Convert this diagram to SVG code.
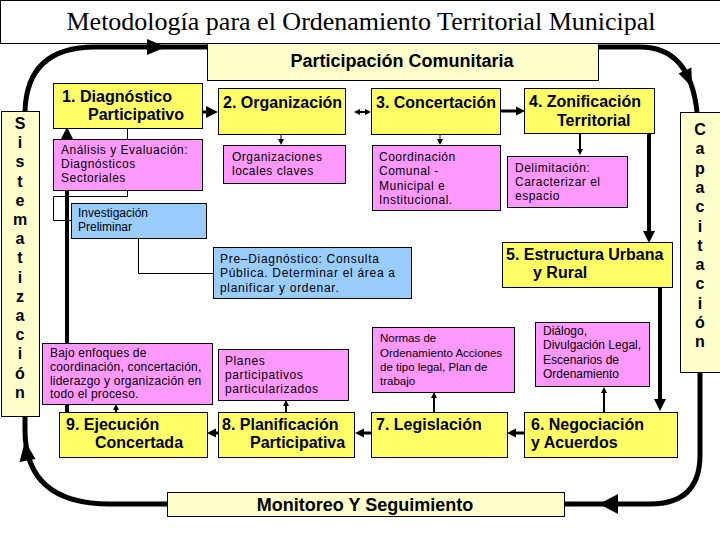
<svg xmlns="http://www.w3.org/2000/svg" width="720" height="540" viewBox="0 0 720 540">
<style>
.box{stroke:#000;stroke-width:1}
.y{fill:#FFFF66}.p{fill:#FF99FF}.b{fill:#99CCFF}.c{fill:#FFFFCC}
.h{font-family:"Liberation Sans",Arial,sans-serif;font-size:16px;font-weight:bold;fill:#000}
.hb{font-family:"Liberation Sans",Arial,sans-serif;font-size:18px;font-weight:bold;fill:#000}
.vt{font-family:"Liberation Sans",Arial,sans-serif;font-size:16px;font-weight:bold;fill:#000;text-anchor:middle}
.s{font-family:"Liberation Sans",Arial,sans-serif;font-size:12px;fill:#000;letter-spacing:0.5px}
.a{font-family:"Liberation Sans",Arial,sans-serif;font-size:12px;fill:#000}
.ttl{font-family:"Liberation Serif","Times New Roman",serif;font-size:26px;fill:#000}
.thk{stroke:#000;stroke-width:5;fill:none}
.med{stroke:#000;stroke-width:4;fill:none}
.ln3{stroke:#000;stroke-width:3;fill:none}
.ln2{stroke:#000;stroke-width:2;fill:none}
.ln1{stroke:#000;stroke-width:1;fill:none}
.hd{fill:#000;stroke:none}
</style>
<defs>
<marker id="hs" viewBox="0 0 10 10" refX="0" refY="5" markerWidth="6" markerHeight="7" markerUnits="userSpaceOnUse" orient="auto"><path d="M0,0 L10,5 L0,10z"/></marker>
<marker id="hm" viewBox="0 0 10 10" refX="0" refY="5" markerWidth="9" markerHeight="10" markerUnits="userSpaceOnUse" orient="auto"><path d="M0,0 L10,5 L0,10z"/></marker>
<marker id="hl" viewBox="0 0 10 10" refX="0" refY="5" markerWidth="12" markerHeight="12" markerUnits="userSpaceOnUse" orient="auto"><path d="M0,0 L10,5 L0,10z"/></marker>
<marker id="hd2" viewBox="0 0 10 10" refX="0" refY="5" markerWidth="6" markerHeight="7" markerUnits="userSpaceOnUse" orient="auto-start-reverse"><path d="M0,0 L10,5 L0,10z"/></marker>
</defs>
<rect width="720" height="540" fill="#fff"/>

<g id="titulo">
<rect class="box" x="0.5" y="0.5" width="740" height="43" fill="#fff"/>
<text class="ttl" x="361" y="30" text-anchor="middle">Metodología para el Ordenamiento Territorial Municipal</text>
</g>

<g id="connectors">
<!-- big loop -->
<path class="thk" d="M207,47 L95,47 Q27,47 25,111"/>
<polygon class="hd" points="147,39 166,47 147,55"/>
<path class="thk" d="M598,47 L640,47 Q690,47 697,112"/>
<polygon class="hd" points="691.4,67.6 692,87 678.6,73.4"/>
<path class="thk" d="M700,373 L700,455 Q700,504 650,504 L564,504"/>
<polygon class="hd" points="618,494 599,504 618,514"/>
<path class="thk" d="M167,504 L110,504 Q25,504 25,430 L25,417"/>
<polygon class="hd" points="35.5,459 25,441 19.5,462"/>
<!-- top row -->
<line class="ln3" x1="202" y1="112" x2="206" y2="112" marker-end="url(#hl)"/>
<line class="ln2" x1="360" y1="112" x2="365" y2="112" marker-start="url(#hd2)" marker-end="url(#hd2)"/>
<line class="ln3" x1="500" y1="111" x2="516" y2="111" marker-end="url(#hm)"/>
<line class="ln1" x1="281" y1="134" x2="281" y2="139" marker-end="url(#hs)"/>
<line class="ln1" x1="440" y1="134" x2="440" y2="139" marker-end="url(#hs)"/>
<line class="ln2" x1="580" y1="133" x2="580" y2="149" marker-end="url(#hs)"/>
<line class="med" x1="649" y1="133" x2="649" y2="231" marker-end="url(#hl)"/>
<line class="med" x1="660" y1="287" x2="660" y2="399" marker-end="url(#hl)"/>
<!-- bottom row -->
<line class="ln3" x1="524" y1="433" x2="516" y2="433" marker-end="url(#hm)"/>
<line class="ln3" x1="372" y1="433" x2="364" y2="433" marker-end="url(#hm)"/>
<line class="ln3" x1="218" y1="433" x2="216" y2="433" marker-end="url(#hm)"/>
<line class="ln2" x1="604" y1="412" x2="604" y2="393" marker-end="url(#hs)"/>
<line class="ln2" x1="434" y1="412" x2="434" y2="398" marker-end="url(#hs)"/>
<line class="ln2" x1="286" y1="412" x2="286" y2="406" marker-end="url(#hs)"/>
<line class="ln2" x1="116" y1="412" x2="116" y2="410" marker-end="url(#hs)"/>
<!-- left vertical -->
<line class="med" x1="67" y1="412" x2="67" y2="139" marker-end="url(#hl)"/>
<!-- thin links -->
<line class="ln1" x1="127.5" y1="128" x2="127.5" y2="139"/>
<path class="ln1" d="M127.5,190 L127.5,196.5 L53.5,196.5 L53.5,220.5 L71,220.5"/>
<path class="ln1" d="M138.5,238 L138.5,273.5 L213,273.5"/>
</g>

<g id="participacion">
<rect class="box c" x="207.5" y="43.5" width="391" height="37"/>
<text class="hb" x="402" y="67" text-anchor="middle">Participación Comunitaria</text>
</g>

<g id="sistematizacion">
<rect class="box c" x="1.5" y="111.5" width="38" height="305"/>
<text class="vt"><tspan x="20" y="129">S</tspan><tspan x="20" dy="19.2">i</tspan><tspan x="20" dy="19.2">s</tspan><tspan x="20" dy="19.2">t</tspan><tspan x="20" dy="19.2">e</tspan><tspan x="20" dy="19.2">m</tspan><tspan x="20" dy="19.2">a</tspan><tspan x="20" dy="19.2">t</tspan><tspan x="20" dy="19.2">i</tspan><tspan x="20" dy="19.2">z</tspan><tspan x="20" dy="19.2">a</tspan><tspan x="20" dy="19.2">c</tspan><tspan x="20" dy="19.2">i</tspan><tspan x="20" dy="19.2">ó</tspan><tspan x="20" dy="19.2">n</tspan></text>
</g>

<g id="capacitacion">
<rect class="box c" x="680.5" y="112.5" width="45" height="260"/>
<text class="vt"><tspan x="700" y="135">C</tspan><tspan x="700" dy="19.3">a</tspan><tspan x="700" dy="19.3">p</tspan><tspan x="700" dy="19.3">a</tspan><tspan x="700" dy="19.3">c</tspan><tspan x="700" dy="19.3">i</tspan><tspan x="700" dy="19.3">t</tspan><tspan x="700" dy="19.3">a</tspan><tspan x="700" dy="19.3">c</tspan><tspan x="700" dy="19.3">i</tspan><tspan x="700" dy="19.3">ó</tspan><tspan x="700" dy="19.3">n</tspan></text>
</g>

<g id="n1">
<rect class="box y" x="53.5" y="83.5" width="149" height="45"/>
<text class="h" x="62" y="102" textLength="110" lengthAdjust="spacingAndGlyphs">1. Diagnóstico</text>
<text class="h" x="88" y="120">Participativo</text>
</g>
<g id="n2">
<rect class="box y" x="218.5" y="88.5" width="127" height="46"/>
<text class="h" x="223" y="108">2. Organización</text>
</g>
<g id="n3">
<rect class="box y" x="371.5" y="88.5" width="129" height="46"/>
<text class="h" x="376" y="108">3. Concertación</text>
</g>
<g id="n4">
<rect class="box y" x="524.5" y="88.5" width="130" height="45"/>
<text class="h" x="529" y="107" textLength="112" lengthAdjust="spacingAndGlyphs">4. Zonificación</text>
<text class="h" x="557" y="126">Territorial</text>
</g>
<g id="n5">
<rect class="box y" x="502.5" y="242.5" width="170" height="45"/>
<text class="h" x="506" y="260">5. Estructura Urbana</text>
<text class="h" x="533" y="278">y Rural</text>
</g>
<g id="n6">
<rect class="box y" x="524.5" y="412.5" width="153" height="45"/>
<text class="h" x="531" y="430">6. Negociación</text>
<text class="h" x="531" y="448">y Acuerdos</text>
</g>
<g id="n7">
<rect class="box y" x="371.5" y="412.5" width="136" height="45"/>
<text class="h" x="376" y="430">7. Legislación</text>
</g>
<g id="n8">
<rect class="box y" x="218.5" y="412.5" width="136" height="45"/>
<text class="h" x="222" y="430">8. Planificación</text>
<text class="h" x="250" y="448">Participativa</text>
</g>
<g id="n9">
<rect class="box y" x="59.5" y="412.5" width="148" height="45"/>
<text class="h" x="66" y="430">9. Ejecución</text>
<text class="h" x="95" y="448">Concertada</text>
</g>

<g id="analisis">
<rect class="box p" x="53.5" y="139.5" width="149" height="51"/>
<text class="s"><tspan x="61" y="154">Análisis y Evaluación:</tspan><tspan x="61" y="168">Diagnósticos</tspan><tspan x="61" y="182">Sectoriales</tspan></text>
</g>
<g id="organizaciones">
<rect class="box p" x="223.5" y="145.5" width="122" height="38"/>
<text class="s"><tspan x="232" y="161">Organizaciones</tspan><tspan x="232" y="175">locales claves</tspan></text>
</g>
<g id="coordinacion">
<rect class="box p" x="372.5" y="145.5" width="128" height="65"/>
<text class="s"><tspan x="379" y="161">Coordinación</tspan><tspan x="379" y="175">Comunal -</tspan><tspan x="379" y="190">Municipal e</tspan><tspan x="379" y="204">Institucional.</tspan></text>
</g>
<g id="delimitacion">
<rect class="box p" x="507.5" y="156.5" width="120" height="51"/>
<text class="s"><tspan x="515" y="172">Delimitación:</tspan><tspan x="515" y="186">Caracterizar el</tspan><tspan x="515" y="200">espacio</tspan></text>
</g>
<g id="investigacion">
<rect class="box b" x="71.5" y="203.5" width="135" height="35"/>
<text class="a"><tspan x="78" y="217">Investigación</tspan><tspan x="78" y="231">Preliminar</tspan></text>
</g>
<g id="prediagnostico">
<rect class="box b" x="213.5" y="247.5" width="198" height="51"/>
<text class="s" style="letter-spacing:0.7px"><tspan x="220" y="263">Pre–Diagnóstico: Consulta</tspan><tspan x="220" y="277">Pública. Determinar el área a</tspan><tspan x="220" y="292">planificar y ordenar.</tspan></text>
</g>
<g id="normas">
<rect class="box p" x="372.5" y="327.5" width="142" height="65"/>
<text class="a" style="font-size:11.5px"><tspan x="380" y="342">Normas de</tspan><tspan x="380" y="357">Ordenamiento Acciones</tspan><tspan x="380" y="371">de tipo legal, Plan de</tspan><tspan x="380" y="385">trabajo</tspan></text>
</g>
<g id="dialogo">
<rect class="box p" x="535.5" y="322.5" width="114" height="64"/>
<text class="a"><tspan x="543" y="335">Diálogo,</tspan><tspan x="543" y="349">Divulgación Legal,</tspan><tspan x="543" y="364">Escenarios de</tspan><tspan x="543" y="378">Ordenamiento</tspan></text>
</g>
<g id="planes">
<rect class="box p" x="218.5" y="349.5" width="130" height="51"/>
<text class="s" style="letter-spacing:0.6px"><tspan x="225" y="365">Planes</tspan><tspan x="225" y="379">participativos</tspan><tspan x="225" y="393">particularizados</tspan></text>
</g>
<g id="bajo">
<rect class="box p" x="42.5" y="343.5" width="170" height="61"/>
<text class="s" style="letter-spacing:0.2px"><tspan x="50" y="357">Bajo enfoques de</tspan><tspan x="50" y="371">coordinación, concertación,</tspan><tspan x="50" y="385">liderazgo y organización en</tspan><tspan x="50" y="398">todo el proceso.</tspan></text>
</g>

<g id="monitoreo">
<rect class="box c" x="167.5" y="492.5" width="397" height="24"/>
<text class="hb" x="365" y="511" text-anchor="middle">Monitoreo Y Seguimiento</text>
</g>
</svg>
